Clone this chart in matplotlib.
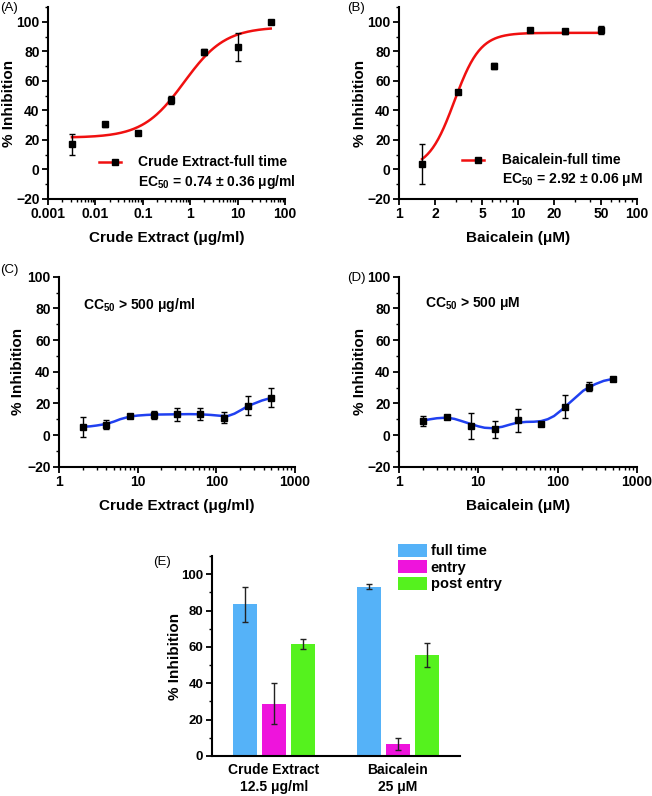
import numpy as np
import matplotlib
matplotlib.use("Agg")
import matplotlib.pyplot as plt
from matplotlib.lines import Line2D
from matplotlib.ticker import FixedLocator, FixedFormatter, LogLocator, NullFormatter, MultipleLocator

plt.rcParams['font.family'] = ['Liberation Sans', 'DejaVu Sans']
plt.rcParams['font.weight'] = 'bold'
plt.rcParams['mathtext.fontset'] = 'custom'
plt.rcParams['mathtext.rm'] = 'Liberation Sans:bold'
plt.rcParams['mathtext.bf'] = 'Liberation Sans:bold'
plt.rcParams['mathtext.it'] = 'Liberation Sans:bold'

# ---------------- data ----------------
# (A) crude extract, full time
a_x = [0.0032, 0.016, 0.08, 0.4, 2, 10, 50]
a_y = [17, 30.5, 25, 47, 79.5, 83, 100]
a_err = [7, 1.5, 1, 3, 2, 9.5, 0.5]
a_bottom, a_top, a_ec50, a_hill = 21.5, 96.5, 0.74, 1.0

# (B) baicalein, full time
b_x = [1.5625, 3.125, 6.25, 12.5, 25, 50]
b_y = [3.5, 52.5, 70, 94.5, 93.5, 94.5]
b_err = [13.5, 1, 2, 1, 1.5, 2.5]
b_bottom, b_top, b_ec50, b_hill = 0.0, 92.5, 2.92, 4.0

# (C) crude extract cytotoxicity
c_x = [2, 4, 8, 16, 31.25, 62.5, 125, 250, 500]
c_y = [5, 6.5, 12, 12.8, 13, 13.2, 11, 18.5, 23.5]
c_err = [6.5, 3, 0.5, 2.5, 4, 3.8, 3.5, 6, 6]
c_curve_x = [2, 2.5, 3, 4, 5, 6, 8, 10, 13, 16, 22, 31, 45, 62, 85, 110, 140, 170, 210, 250, 300, 380, 500]
c_curve_y = [5.2, 5.5, 6.0, 7.0, 8.5, 10, 11.7, 12.3, 12.7, 12.9, 13.0, 13.1, 13.2, 13.1, 12.7, 12.2, 12.0, 13.5, 16, 18.2, 19.8, 21.8, 23.5]

# (D) baicalein cytotoxicity
d_x = [2, 4, 8, 16, 31.25, 62.5, 125, 250, 500]
d_y = [9, 11.3, 5.8, 3.5, 9.2, 7, 18, 30.5, 35.5]
d_err = [3, 0.8, 8, 5.5, 7, 1.5, 7, 3, 0.5]
d_curve_x = [2, 2.5, 3, 4, 5, 6, 8, 10, 12, 15, 20, 25, 31, 40, 50, 62, 75, 90, 110, 125, 150, 180, 210, 250, 300, 380, 500]
d_curve_y = [9.2, 10.0, 10.6, 11.0, 10.2, 9.0, 7.0, 5.5, 4.6, 4.3, 5.2, 6.6, 7.8, 8.3, 8.4, 8.8, 10.0, 12.0, 15.5, 18.0, 21.5, 25.0, 28.0, 30.2, 32.2, 34.2, 35.5]

# (E) time-of-addition bars
e_groups = ['Crude Extract\n12.5 \u03bcg/ml', 'Baicalein\n25 \u03bcM']
e_series = ['full time', 'entry', 'post entry']
e_full = [83.4, 93.2]
e_full_err = [9.5, 1.6]
e_entry = [28.8, 6.6]
e_entry_err = [11.2, 3.3]
e_post = [61.8, 55.6]
e_post_err = [2.7, 6.7]

# ---------------- figure ----------------
W, H = 652, 796
fig = plt.figure(figsize=(W / 100, H / 100), dpi=100)

def rect(l, t, r, b):
    return [l / W, 1 - b / H, (r - l) / W, (b - t) / H]

def fpt(x, y):
    return (x / W, 1 - y / H)

RED = '#F01010'
BLUE = '#2040F0'
TICK_FS = 10
LAB_FS = 11

def style(ax, ylo, yhi):
    for s in ['top', 'right']:
        ax.spines[s].set_visible(False)
    for s in ['left', 'bottom']:
        ax.spines[s].set_linewidth(1.5)
    ax.set_ylim(ylo, yhi)
    ax.yaxis.set_major_locator(FixedLocator([-20, 0, 20, 40, 60, 80, 100]))
    ax.yaxis.set_minor_locator(MultipleLocator(10))
    ax.set_yticklabels(['\u221220', '0', '20', '40', '60', '80', '100'])
    ax.tick_params(which='major', length=4, width=1.3, labelsize=TICK_FS, pad=2)
    ax.tick_params(which='minor', length=2.5, width=1.0)
    for t in ax.get_xticklabels() + ax.get_yticklabels():
        t.set_fontweight('bold')
    ax.set_ylabel('% Inhibition', fontsize=LAB_FS, fontweight='bold')

def logpl(x, bottom, top, ec50, hill):
    x = np.asarray(x, dtype=float)
    return bottom + (top - bottom) / (1 + (ec50 / x) ** hill)

# ---- (A)
axA = fig.add_axes(rect(48, 7, 285, 199))
xs = np.logspace(np.log10(a_x[0]), np.log10(a_x[-1]), 200)
axA.plot(xs, logpl(xs, a_bottom, a_top, a_ec50, a_hill), color=RED, lw=1.8, zorder=2)
axA.errorbar(a_x, a_y, yerr=a_err, fmt='s', color='black', ms=4.5, capsize=2.5,
             elinewidth=1, capthick=1, zorder=3)
axA.set_xscale('log')
axA.set_xlim(0.001, 100)
axA.xaxis.set_major_locator(FixedLocator([0.001, 0.01, 0.1, 1, 10, 100]))
axA.xaxis.set_major_formatter(FixedFormatter(['0.001', '0.01', '0.1', '1', '10', '100']))
axA.xaxis.set_minor_locator(LogLocator(base=10, subs=np.arange(2, 10)))
axA.xaxis.set_minor_formatter(NullFormatter())
style(axA, -20, 110)
axA.set_xlabel('Crude Extract (\u03bcg/ml)', fontsize=LAB_FS, fontweight='bold', labelpad=7)
axA.yaxis.set_label_coords(-0.136, 0.5)

# ---- (B)
axB = fig.add_axes(rect(399, 7, 637, 199))
xs = np.logspace(np.log10(b_x[0]), np.log10(b_x[-1]), 200)
axB.plot(xs, logpl(xs, b_bottom, b_top, b_ec50, b_hill), color=RED, lw=1.8, zorder=2)
axB.errorbar(b_x, b_y, yerr=b_err, fmt='s', color='black', ms=4.5, capsize=2.5,
             elinewidth=1, capthick=1, zorder=3)
axB.set_xscale('log')
axB.set_xlim(1, 100)
axB.xaxis.set_major_locator(FixedLocator([1, 2, 5, 10, 20, 50, 100]))
axB.xaxis.set_major_formatter(FixedFormatter(['1', '2', '5', '10', '20', '50', '100']))
axB.xaxis.set_minor_locator(FixedLocator([3, 4, 6, 7, 8, 9, 30, 40, 60, 70, 80, 90]))
axB.xaxis.set_minor_formatter(NullFormatter())
style(axB, -20, 110)
axB.set_xlabel('Baicalein (\u03bcM)', fontsize=LAB_FS, fontweight='bold', labelpad=7)
axB.yaxis.set_label_coords(-0.134, 0.5)

# ---- (C)
axC = fig.add_axes(rect(59, 276.7, 295, 466.7))
axC.plot(c_curve_x, c_curve_y, color=BLUE, lw=1.8, zorder=2)
axC.errorbar(c_x, c_y, yerr=c_err, fmt='s', color='black', ms=4.5, capsize=2.5,
             elinewidth=1, capthick=1, zorder=3)
axC.set_xscale('log')
axC.set_xlim(1, 1000)
axC.xaxis.set_major_locator(FixedLocator([1, 10, 100, 1000]))
axC.xaxis.set_major_formatter(FixedFormatter(['1', '10', '100', '1000']))
axC.xaxis.set_minor_locator(LogLocator(base=10, subs=np.arange(2, 10)))
axC.xaxis.set_minor_formatter(NullFormatter())
style(axC, -20, 100)
axC.set_xlabel('Crude Extract (\u03bcg/ml)', fontsize=LAB_FS, fontweight='bold', labelpad=7)
axC.yaxis.set_label_coords(-0.144, 0.5)

# ---- (D)
axD = fig.add_axes(rect(399, 276.7, 637, 466.7))
axD.plot(d_curve_x, d_curve_y, color=BLUE, lw=1.8, zorder=2)
axD.errorbar(d_x, d_y, yerr=d_err, fmt='s', color='black', ms=4.5, capsize=2.5,
             elinewidth=1, capthick=1, zorder=3)
axD.set_xscale('log')
axD.set_xlim(1, 1000)
axD.xaxis.set_major_locator(FixedLocator([1, 10, 100, 1000]))
axD.xaxis.set_major_formatter(FixedFormatter(['1', '10', '100', '1000']))
axD.xaxis.set_minor_locator(LogLocator(base=10, subs=np.arange(2, 10)))
axD.xaxis.set_minor_formatter(NullFormatter())
style(axD, -20, 100)
axD.set_xlabel('Baicalein (\u03bcM)', fontsize=LAB_FS, fontweight='bold', labelpad=7)
axD.yaxis.set_label_coords(-0.134, 0.5)

# ---- (E)
axE = fig.add_axes(rect(211.7, 556, 460, 756))
gx = np.arange(len(e_groups))
bw, off = 0.198, 0.234
colors = ['#55B2F8', '#EE14DC', '#55F21E']
vals = [e_full, e_entry, e_post]
errs = [e_full_err, e_entry_err, e_post_err]
for i, (v, e, c, name) in enumerate(zip(vals, errs, colors, e_series)):
    axE.bar(gx + (i - 1) * off, v, width=bw, color=c, label=name, zorder=2)
    axE.errorbar(gx + (i - 1) * off, v, yerr=e, fmt='none', ecolor='#222222',
                 elinewidth=1, capsize=2.5, capthick=1, zorder=3)
axE.set_xlim(-0.502, 1.5)
axE.set_ylim(0, 110)
for s in ['top', 'right']:
    axE.spines[s].set_visible(False)
for s in ['left', 'bottom']:
    axE.spines[s].set_linewidth(1.5)
axE.yaxis.set_major_locator(FixedLocator([0, 20, 40, 60, 80, 100]))
axE.yaxis.set_minor_locator(MultipleLocator(10))
axE.set_xticks(gx)
axE.set_xticklabels(e_groups, fontsize=10, fontweight='bold', linespacing=1.25)
axE.tick_params(axis='x', length=0, pad=5)
axE.tick_params(axis='y', which='major', length=4, width=1.3, labelsize=9.5, pad=2)
axE.tick_params(axis='y', which='minor', length=2.5, width=1.0)
for t in axE.get_yticklabels():
    t.set_fontweight('bold')
axE.set_ylabel('% Inhibition', fontsize=LAB_FS, fontweight='bold')
axE.yaxis.set_label_coords(-0.12, 0.5)
leg = axE.legend(loc='upper left', bbox_to_anchor=((398 - 211.7) / 248.3, (756 - 544) / 200),
                 frameon=False, fontsize=10.5, handlelength=2.0, handleheight=0.95,
                 handletextpad=0.25, labelspacing=0.15, borderpad=0, borderaxespad=0)
for t in leg.get_texts():
    t.set_fontweight('bold')

# ---- panel letters
for lab, (x, y) in zip(['(A)', '(B)', '(C)', '(D)', '(E)'],
                       [(9, 8), (356, 8), (9, 270), (356, 278), (162, 562)]):
    fig.text(*fpt(x, y), lab, fontsize=9.5, fontweight='normal', ha='center', va='center')

# ---- legends for A and B (drawn manually, Origin style)
def draw_leg(x0, x1, xm, y, tx, label, ec_text):
    fig.add_artist(Line2D([x0 / W, x1 / W], [1 - y / H, 1 - y / H], color=RED, lw=1.8,
                          transform=fig.transFigure))
    fig.add_artist(Line2D([xm / W], [1 - y / H], marker='s', ms=4.5, color='black', lw=0,
                          transform=fig.transFigure))
    fig.text(*fpt(tx, y), label, fontsize=10, fontweight='bold', ha='left', va='center')
    fig.text(*fpt(tx, y + 20), ec_text, fontsize=10, fontweight='bold', ha='left', va='center')

draw_leg(99, 121, 115, 162, 138, 'Crude Extract-full time',
         'EC$_{50}$ = 0.74 \u00b1 0.36 \u03bcg/ml')
draw_leg(462, 484, 478, 160, 502, 'Baicalein-full time',
         'EC$_{50}$ = 2.92 \u00b1 0.06 \u03bcM')

# ---- CC50 annotations
fig.text(*fpt(83, 305), 'CC$_{50}$ > 500 \u03bcg/ml', fontsize=10, fontweight='bold',
         ha='left', va='center')
fig.text(*fpt(425, 304), 'CC$_{50}$ > 500 \u03bcM', fontsize=10, fontweight='bold',
         ha='left', va='center')

fig.savefig('out.png', dpi=100)
